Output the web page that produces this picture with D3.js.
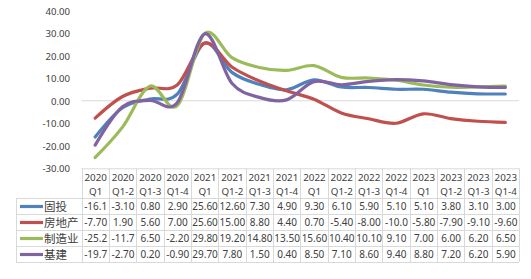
<!DOCTYPE html>
<html><head><meta charset="utf-8">
<script src="https://cdn.jsdelivr.net/npm/d3@7"></script>
<style>
body{margin:0;background:#fff;}
text{font-family:"Noto Sans","Noto Sans CJK SC",sans-serif;fill:#404040;}
</style></head>
<body><svg id="c" width="531" height="279"></svg>
<script>
const categories = ["2020 Q1","2020 Q1-2","2020 Q1-3","2020 Q1-4","2021 Q1","2021 Q1-2","2021 Q1-3","2021 Q1-4","2022 Q1","2022 Q1-2","2022 Q1-3","2022 Q1-4","2023 Q1","2023 Q1-2","2023 Q1-3","2023 Q1-4"];
const seriesNames = ["固投","房地产","制造业","基建"];
const seriesColors = ["#4F81BD","#C0504D","#9BBB59","#8064A2"];
const guTou   = [-16.1,-3.1,0.8,2.9,25.6,12.6,7.3,4.9,9.3,6.1,5.9,5.1,5.1,3.8,3.1,3.0];
const fangDiChan = [-7.7,1.9,5.6,7.0,25.6,15.0,8.8,4.4,0.7,-5.4,-8.0,-10.0,-5.8,-7.9,-9.1,-9.6];
const zhiZaoYe = [-25.2,-11.7,6.5,-2.2,29.8,19.2,14.8,13.5,15.6,10.4,10.1,9.1,7.0,6.0,6.2,6.5];
const jiJian  = [-19.7,-2.7,0.2,-0.9,29.7,7.8,1.5,0.4,8.5,7.1,8.6,9.4,8.8,7.2,6.2,5.9];
const yTicks = [-30,-20,-10,0,10,20,30,40];

const series = [guTou, fangDiChan, zhiZaoYe, jiJian];
const svg = d3.select("#c");

const plotLeft = 81.5, plotRight = 519;
const tableLeft = 16, headerTop = 168.3, headerBottom = 198, rowH = 16;

const x = d3.scaleBand().domain(categories).range([plotLeft, plotRight]).padding(0);
const y = d3.scaleLinear().domain([-30, 40]).range([168.3, 10.7]);

// y axis
const yAxis = d3.axisLeft(y).tickValues(yTicks).tickSize(0).tickPadding(0).tickFormat(d => d.toFixed(2));
const ga = svg.append("g").attr("transform", "translate(70,0)").call(yAxis);
ga.select(".domain").remove();
ga.selectAll("text").attr("font-family", '"Noto Sans",sans-serif').attr("font-size", 9.6).attr("fill", "#595959").attr("dy", "0.35em");

// zero gridline
svg.append("line").attr("x1", plotLeft).attr("x2", plotRight).attr("y1", y(0)).attr("y2", y(0))
  .attr("stroke", "#D9D9D9").attr("stroke-width", 1);

// lines
const line = d3.line()
  .x((d, i) => x(categories[i]) + x.bandwidth() / 2)
  .y(d => y(d))
  .curve(d3.curveCardinal.tension(0));
series.forEach((s, k) => {
  svg.append("path").attr("d", line(s)).attr("fill", "none")
    .attr("stroke", seriesColors[k]).attr("stroke-width", 3.2)
    .attr("stroke-linejoin", "round").attr("stroke-linecap", "round");
});

// table
const grid = "#D9D9D9";
const tb = svg.append("g");
const tableBottom = headerBottom + rowH * series.length;
tb.append("line").attr("x1", plotLeft).attr("x2", plotRight).attr("y1", headerTop + 0.5).attr("y2", headerTop + 0.5).attr("stroke", grid);
for (let r = 0; r <= series.length; r++) {
  const yy = headerBottom + r * rowH + 0.5;
  tb.append("line").attr("x1", tableLeft).attr("x2", plotRight).attr("y1", yy).attr("y2", yy).attr("stroke", grid);
}
tb.append("line").attr("x1", tableLeft + 0.5).attr("x2", tableLeft + 0.5).attr("y1", headerBottom).attr("y2", tableBottom).attr("stroke", grid);
categories.forEach(c => {
  const xx = Math.round(x(c)) + 0.5;
  tb.append("line").attr("x1", xx).attr("x2", xx).attr("y1", headerTop).attr("y2", tableBottom).attr("stroke", grid);
});
tb.append("line").attr("x1", plotRight + 0.5).attr("x2", plotRight + 0.5).attr("y1", headerTop).attr("y2", tableBottom).attr("stroke", grid);

// header text
categories.forEach(c => {
  const parts = c.split(" ");
  const cx = x(c) + x.bandwidth() / 2 + 0.5;
  tb.append("text").attr("x", cx).attr("y", 178).attr("text-anchor", "middle").attr("dy", "0.35em")
    .attr("font-size", 9.8).text(parts[0]);
  tb.append("text").attr("x", cx).attr("y", 192).attr("text-anchor", "middle").attr("dy", "0.35em")
    .attr("font-size", 9.8).text(parts[1]);
});

// rows
series.forEach((s, k) => {
  const cy = headerBottom + k * rowH + rowH / 2 + 0.5;
  tb.append("line").attr("x1", 20).attr("x2", 43).attr("y1", cy).attr("y2", cy)
    .attr("stroke", seriesColors[k]).attr("stroke-width", 3.2);
  tb.append("text").attr("x", 44).attr("y", cy).attr("dy", "0.35em")
    .attr("font-family", '"Noto Sans CJK SC",sans-serif').attr("font-size", 11.5).text(seriesNames[k]);
  s.forEach((v, i) => {
    let t = v.toFixed(2);
    if (t.length > 5) t = t.slice(0, 5);
    tb.append("text").attr("x", x(categories[i]) + x.bandwidth() / 2 + 0.5).attr("y", cy).attr("dy", "0.35em")
      .attr("text-anchor", "middle").attr("font-size", 10).text(t);
  });
});
</script></body></html>
